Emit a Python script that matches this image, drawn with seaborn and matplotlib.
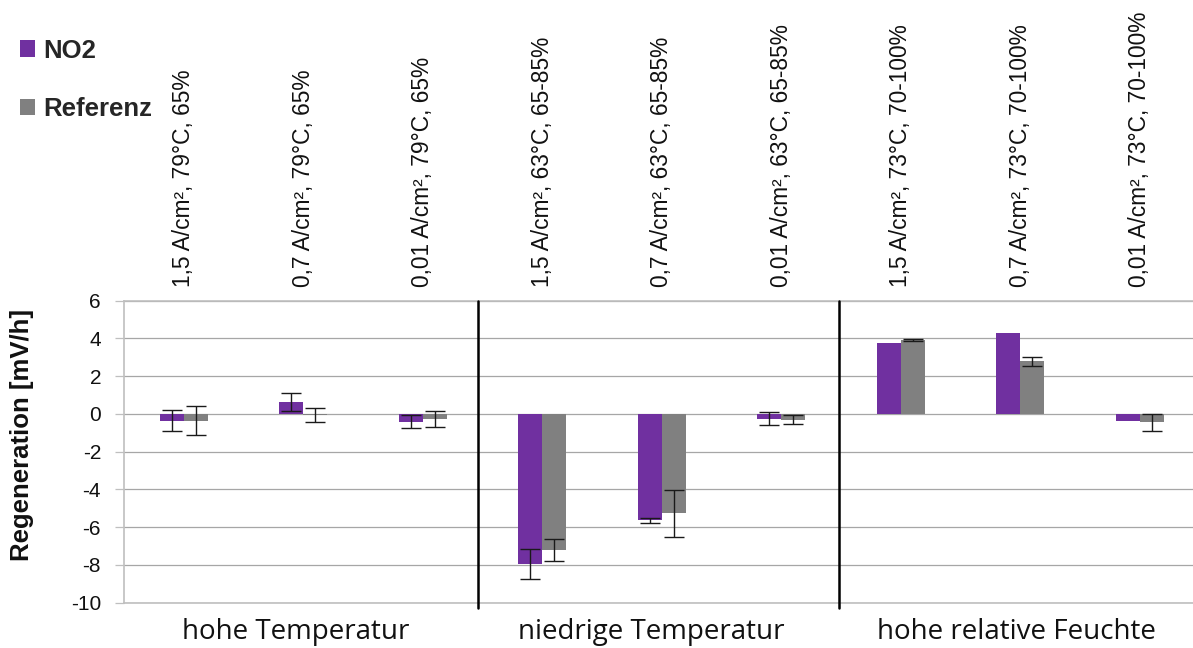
import numpy as np
import pandas as pd
import matplotlib
matplotlib.use("Agg")
import matplotlib.pyplot as plt
import seaborn as sns
from matplotlib.patches import Patch
from matplotlib.transforms import blended_transform_factory

# Operating points (current density, temperature, relative humidity)
categories = [
    "1,5 A/cm², 79°C, 65%",
    "0,7 A/cm², 79°C, 65%",
    "0,01 A/cm², 79°C, 65%",
    "1,5 A/cm², 63°C, 65-85%",
    "0,7 A/cm², 63°C, 65-85%",
    "0,01 A/cm², 63°C, 65-85%",
    "1,5 A/cm², 73°C, 70-100%",
    "0,7 A/cm², 73°C, 70-100%",
    "0,01 A/cm², 73°C, 70-100%",
]
groups = ["hohe Temperatur", "niedrige Temperatur", "hohe relative Feuchte"]
series = ["NO2", "Referenz"]

# Regeneration rates in mV/h and their error margins
no2 = [-0.35, 0.62, -0.41, -7.93, -5.64, -0.25, 3.74, 4.29, -0.36]
no2_err = [0.55, 0.48, 0.36, 0.79, 0.13, 0.34, 0.0, 0.0, 0.0]
ref = [-0.35, -0.05, -0.25, -7.21, -5.27, -0.30, 3.92, 2.79, -0.44]
ref_err = [0.75, 0.37, 0.42, 0.59, 1.24, 0.25, 0.06, 0.23, 0.46]

yticks = [6, 4, 2, 0, -2, -4, -6, -8, -10]

df = pd.DataFrame({
    "Betriebspunkt": categories * 2,
    "Serie": [series[0]] * len(categories) + [series[1]] * len(categories),
    "Regeneration": no2 + ref,
})
errors = {series[0]: no2_err, series[1]: ref_err}

sns.set_style("white")
plt.rcParams["font.family"] = ["Liberation Sans", "DejaVu Sans"]

W, H = 1193, 648
fig = plt.figure(figsize=(W / 100, H / 100), dpi=100)
ax = fig.add_axes([124 / W, 1 - 602.7 / H, (1199.5 - 124) / W, (602.7 - 300.7) / H])

palette = {"NO2": "#7030A0", "Referenz": "#808080"}
sns.barplot(data=df, x="Betriebspunkt", y="Regeneration", hue="Serie",
            order=categories, hue_order=series, palette=palette,
            width=0.4, saturation=1, linewidth=0, errorbar=None,
            legend=False, ax=ax, zorder=3)

# error bars centred on the end of each bar
for name, container in zip(series, ax.containers):
    for patch, err in zip(container.patches, errors[name]):
        if err <= 0:
            continue
        xc = patch.get_x() + patch.get_width() / 2
        val = patch.get_y() + patch.get_height()
        ax.errorbar(xc, val, yerr=err, fmt="none", ecolor="#1a1a1a",
                    elinewidth=1.0, capsize=7, capthick=1.0, zorder=4)

ax.set_ylim(-10, 6)
ax.set_yticks(yticks)
ax.set_yticklabels([str(t) for t in yticks])
ax.yaxis.grid(True, color="#a6a6a6", linewidth=0.9, zorder=0)
ax.set_axisbelow(True)
ax.set_xlim(-0.5, len(categories) - 0.5)

ax.tick_params(axis="y", left=True, length=6.5, width=0.9, color="#bfbfbf",
               pad=10, labelsize=15, labelcolor="#111111")
ax.tick_params(axis="x", bottom=False, labelbottom=False, top=False,
               labeltop=True, length=0, pad=10, labelsize=16.4,
               labelcolor="#111111")
for lab in ax.get_xticklabels():
    lab.set_rotation(90)
    lab.set_ha("center")
    lab.set_va("bottom")

ax.set_xlabel("")
ax.set_ylabel("")
for side in ["left", "bottom", "top"]:
    ax.spines[side].set_color("#bfbfbf")
    ax.spines[side].set_linewidth(1.2)
ax.spines["right"].set_visible(False)

# group separators
for xs in [2.46, 5.48]:
    ax.plot([xs, xs], [6, -10.3], color="black", linewidth=1.8,
            clip_on=False, zorder=5)

# group names below the plot
trans = blended_transform_factory(ax.transData, ax.transAxes)
for pos, g in zip([0.94, 3.91, 6.97], groups):
    ax.annotate(g, xy=(pos, 0), xycoords=trans, xytext=(0, -11),
                textcoords="offset points", ha="center", va="top",
                fontsize=20, family=["Open Sans", "DejaVu Sans"],
                color="#111111")

fig.text(22 / W, 1 - 435 / H, "Regeneration [mV/h]", rotation=90,
         ha="center", va="center", fontsize=18.5, fontweight="bold",
         color="#111111")

# legend
handles = [Patch(facecolor=palette[s], edgecolor="none") for s in series]
leg = fig.legend(handles, series, loc="center left",
                 bbox_to_anchor=(20 / W, 1 - 80 / H), frameon=False,
                 prop={"weight": "bold", "size": 18.5}, handlelength=0.6,
                 handleheight=0.6, handletextpad=0.3, labelspacing=1.35,
                 borderpad=0, borderaxespad=0)

fig.savefig("out.png", dpi=100)
